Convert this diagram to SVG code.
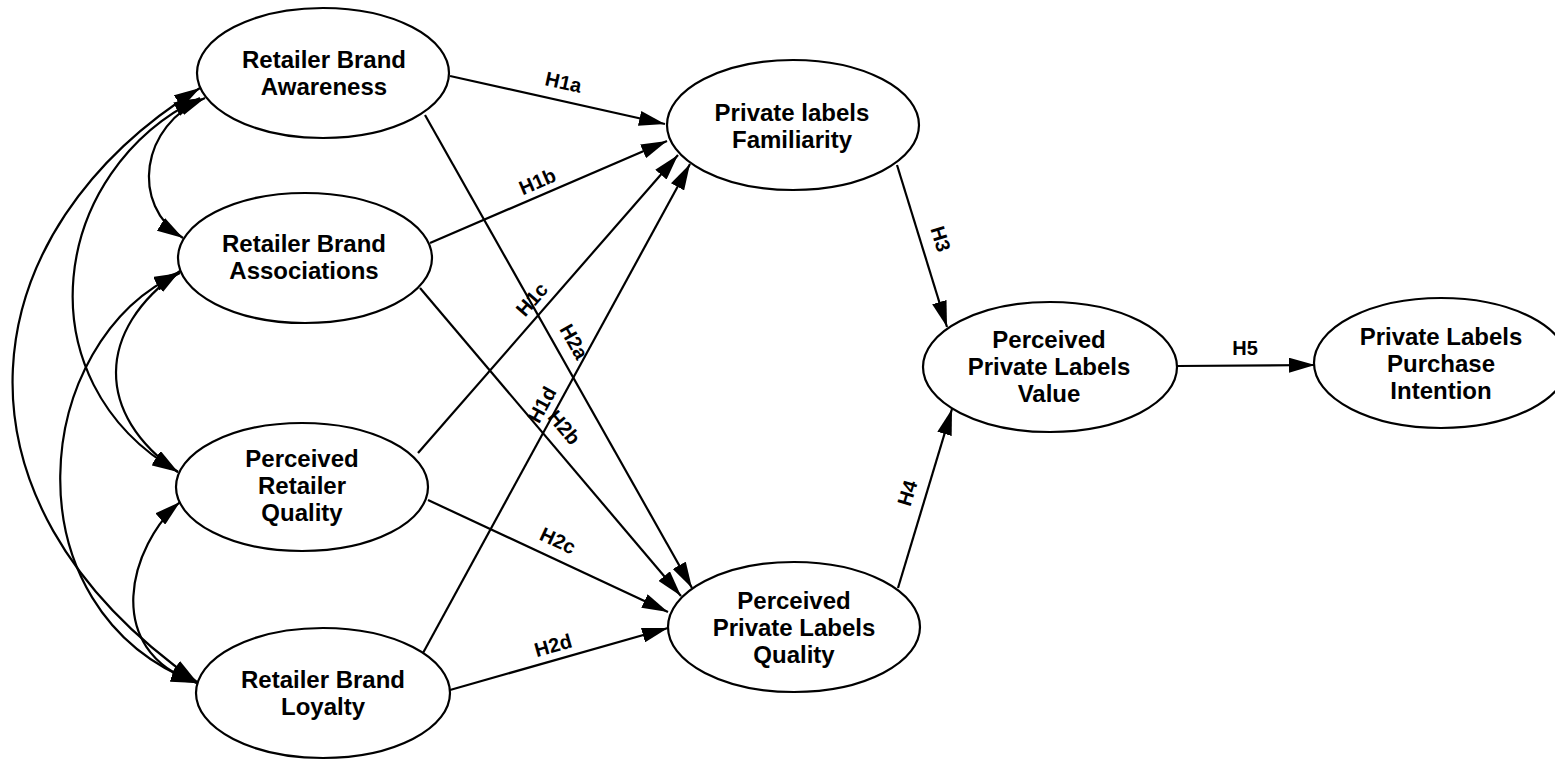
<svg xmlns="http://www.w3.org/2000/svg" width="1555" height="760" viewBox="0 0 1555 760">
  <style>
    .node ellipse { fill: #fff; stroke: #000; stroke-width: 2.2; }
    .node text { font-family: "Liberation Sans", Arial, sans-serif; font-weight: bold; font-size: 24px; fill: #000; text-anchor: middle; }
    .edge { stroke: #000; stroke-width: 2.2; fill: none; marker-end: url(#ah); }
    .cov { stroke: #000; stroke-width: 2.2; fill: none; marker-start: url(#ah); marker-end: url(#ah); }
    .lbl { font-family: "Liberation Sans", Arial, sans-serif; font-weight: bold; font-size: 20px; fill: #000; text-anchor: middle; }
  </style>
  <defs>
    <marker id="ah" viewBox="0 0 26 15" refX="26" refY="7.5" markerWidth="26" markerHeight="15" markerUnits="userSpaceOnUse" orient="auto-start-reverse">
      <path d="M0,0 L26,7.5 L0,15 z" fill="#000"/>
    </marker>
  </defs>
  <rect width="1555" height="760" fill="#fff"/>

  <!-- connectors -->
  <g id="connectors">
    <!-- correlations among the retailer constructs -->
    <path class="cov" d="M205,98 C140,125 130,205 183,238"/>
    <path class="cov" d="M200,98 C50,170 20,380 178,472"/>
    <path class="cov" d="M200,88 C-30,230 -68,497 197,682"/>
    <path class="cov" d="M180,271 C95,330 95,415 178,472"/>
    <path class="cov" d="M180,273 C30,340 5,610 197,683"/>
    <path class="cov" d="M180,502 C130,545 100,650 197,683"/>

    <!-- hypothesised paths -->
    <line class="edge" x1="450" y1="76" x2="665" y2="124"/>
    <line class="edge" x1="430" y1="243" x2="667" y2="141"/>
    <line class="edge" x1="418" y1="453" x2="678" y2="155"/>
    <line class="edge" x1="423" y1="653" x2="690" y2="164"/>
    <line class="edge" x1="425" y1="115" x2="692" y2="588"/>
    <line class="edge" x1="420" y1="288" x2="681" y2="596"/>
    <line class="edge" x1="428" y1="500" x2="668" y2="612"/>
    <line class="edge" x1="450" y1="690" x2="668" y2="628"/>
    <line class="edge" x1="897" y1="165" x2="947" y2="327"/>
    <line class="edge" x1="898" y1="588" x2="952" y2="409"/>
    <line class="edge" x1="1177" y1="366" x2="1315" y2="365"/>

    <text class="lbl" transform="translate(562,89) rotate(12.6)">H1a</text>
    <text class="lbl" transform="translate(540,188) rotate(-23.3)">H1b</text>
    <text class="lbl" transform="translate(537,304) rotate(-48.8)">H1c</text>
    <text class="lbl" transform="translate(548,408) rotate(-61.3)">H1d</text>
    <text class="lbl" transform="translate(568,345) rotate(60.7)">H2a</text>
    <text class="lbl" transform="translate(559,432) rotate(49.7)">H2b</text>
    <text class="lbl" transform="translate(555,547) rotate(25)">H2c</text>
    <text class="lbl" transform="translate(555,652) rotate(-15.9)">H2d</text>
    <text class="lbl" transform="translate(934,241) rotate(72.8)">H3</text>
    <text class="lbl" transform="translate(914,495) rotate(-73)">H4</text>
    <text class="lbl" transform="translate(1245,355)">H5</text>
  </g>

  <!-- constructs -->
  <g id="awareness" class="node">
    <ellipse cx="323" cy="73" rx="126" ry="65"/>
    <text x="324" y="68">Retailer Brand</text>
    <text x="324" y="95">Awareness</text>
  </g>
  <g id="associations" class="node">
    <ellipse cx="305" cy="258" rx="127" ry="65"/>
    <text x="304" y="252">Retailer Brand</text>
    <text x="304" y="279">Associations</text>
  </g>
  <g id="retailer-quality" class="node">
    <ellipse cx="302" cy="487" rx="126" ry="64"/>
    <text x="302" y="467">Perceived</text>
    <text x="302" y="494">Retailer</text>
    <text x="302" y="521">Quality</text>
  </g>
  <g id="loyalty" class="node">
    <ellipse cx="323" cy="693" rx="127" ry="65"/>
    <text x="323" y="688">Retailer Brand</text>
    <text x="323" y="715">Loyalty</text>
  </g>
  <g id="familiarity" class="node">
    <ellipse cx="793" cy="125" rx="126" ry="65"/>
    <text x="792" y="121">Private labels</text>
    <text x="792" y="148">Familiarity</text>
  </g>
  <g id="pl-quality" class="node">
    <ellipse cx="794" cy="627" rx="126" ry="65"/>
    <text x="794" y="609">Perceived</text>
    <text x="794" y="636">Private Labels</text>
    <text x="794" y="663">Quality</text>
  </g>
  <g id="pl-value" class="node">
    <ellipse cx="1050" cy="367" rx="127" ry="65"/>
    <text x="1049" y="348">Perceived</text>
    <text x="1049" y="375">Private Labels</text>
    <text x="1049" y="402">Value</text>
  </g>
  <g id="purchase-intention" class="node">
    <ellipse cx="1441" cy="363" rx="127" ry="65"/>
    <text x="1441" y="345">Private Labels</text>
    <text x="1441" y="372">Purchase</text>
    <text x="1441" y="399">Intention</text>
  </g>
</svg>
